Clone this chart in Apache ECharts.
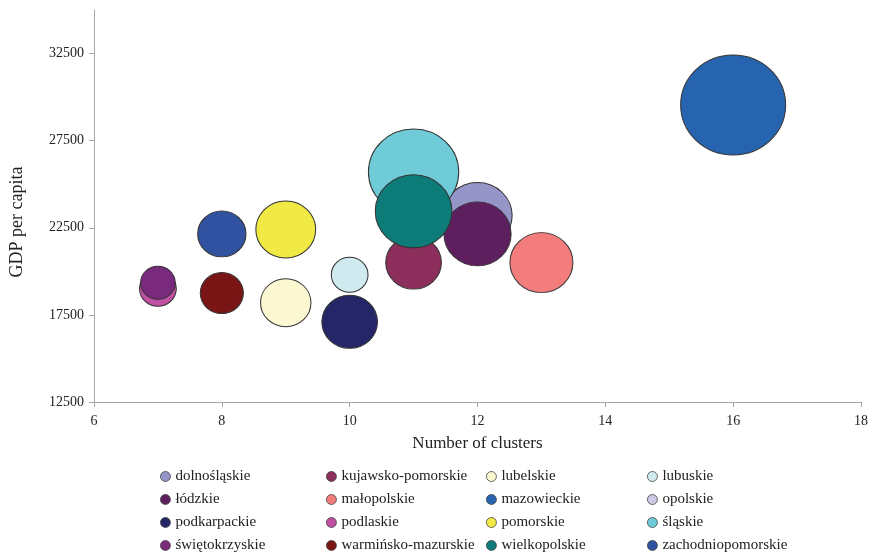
<!DOCTYPE html>
<html>
<head lang="en">
    <meta charset="UTF-8"/>
    <title>GDP per capita vs clusters</title>
    <script src="https://cdn.jsdelivr.net/npm/echarts@6/dist/echarts.min.js"></script>
    <style>
        html, body { margin: 0; padding: 0; background: #fff; }
        #main { width: 871px; height: 552px; }
    </style>
</head>
<body>
<div id="main"></div>
<script>
    // voivodeships, in legend order
    var regions = ['dolnośląskie', 'kujawsko-pomorskie', 'lubelskie', 'lubuskie', 'łódzkie', 'małopolskie',
        'mazowieckie', 'opolskie', 'podkarpackie', 'podlaskie', 'pomorskie', 'śląskie',
        'świętokrzyskie', 'warmińsko-mazurskie', 'wielkopolskie', 'zachodniopomorskie'];
    var clusters = [12, 11, 9, 10, 12, 13, 16, 10, 10, 7, 9, 11, 7, 8, 11, 8];
    var gdp = [23200, 20500, 18200, 19800, 22150, 20500, 29550, 17300, 17100, 19000, 22400, 25700, 19350, 18750, 23450, 22150];
    var bubble = [66, 53, 48, 35, 64, 60, 100, 40, 53, 35, 57, 86, 33, 41, 73, 46];
    var colors = ['#9595c8', '#8c2f5c', '#fbf8d2', '#d0ebf0', '#5e1f5f', '#f37c7c', '#2764b0', '#cdc9e4',
        '#252668', '#c050a2', '#f2ea44', '#70cbd8', '#7a2a7c', '#7a1516', '#0d7b78', '#3152a0'];
    var yTicks = [12500, 17500, 22500, 27500, 32500];

    var series = [];
    for (var i = 0; i < regions.length; i++) {
        series.push({
            name: regions[i],
            type: 'scatter',
            data: [[clusters[i], gdp[i], bubble[i]]],
            symbolSize: function (v) { return [v[2] * 1.05, v[2]]; },
            itemStyle: {color: colors[i], borderColor: '#333', borderWidth: 1, opacity: 1},
            emphasis: {disabled: true}
        });
    }

    // legend laid out as four columns
    var legendCols = [160, 326, 486, 647];
    var legends = [];
    for (var c = 0; c < 4; c++) {
        var names = [];
        for (var r = 0; r < 4; r++) names.push(regions[r * 4 + c]);
        legends.push({
            data: names,
            orient: 'vertical',
            left: legendCols[c],
            top: 469,
            height: 120,
            itemWidth: 10,
            itemHeight: 10,
            itemGap: 8,
            icon: 'circle',
            selectedMode: false,
            padding: 0,
            itemStyle: {borderWidth: 0.8, borderColor: '#444'},
            textStyle: {fontFamily: 'Liberation Serif', fontSize: 15, color: '#222', lineHeight: 14, padding: [0, 0, 0, 0]}
        });
    }

    var chart = echarts.init(document.getElementById('main'));
    chart.setOption({
        animation: false,
        textStyle: {fontFamily: 'Liberation Serif'},
        legend: legends,
        grid: {left: 93, right: 9, top: 10, bottom: 150, containLabel: false},
        xAxis: {
            type: 'value',
            min: 6, max: 18, interval: 2,
            name: 'Number of clusters',
            nameLocation: 'middle',
            nameGap: 33,
            nameTextStyle: {fontFamily: 'Liberation Serif', fontSize: 17, color: '#222'},
            axisLine: {lineStyle: {color: '#a6a6a6'}},
            axisTick: {length: 5, lineStyle: {color: '#a6a6a6'}},
            axisLabel: {margin: 12, fontSize: 14, color: '#222', fontFamily: 'Liberation Serif'},
            splitLine: {show: false}
        },
        yAxis: {
            type: 'value',
            min: 12500, max: 35000,
            name: 'GDP per capita',
            nameLocation: 'middle',
            nameGap: 68,
            nameRotate: 90,
            nameTextStyle: {fontFamily: 'Liberation Serif', fontSize: 18, color: '#222', padding: [0, 32, 0, 0]},
            axisLine: {show: true, lineStyle: {color: '#a6a6a6'}},
            axisTick: {show: true, length: 5, customValues: yTicks, lineStyle: {color: '#a6a6a6'}},
            axisLabel: {
                margin: 10, fontSize: 14, color: '#222', fontFamily: 'Liberation Serif', customValues: yTicks,
                formatter: function (v) { return String(v); }
            },
            splitLine: {show: false}
        },
        series: series
    });
</script>
</body>
</html>
